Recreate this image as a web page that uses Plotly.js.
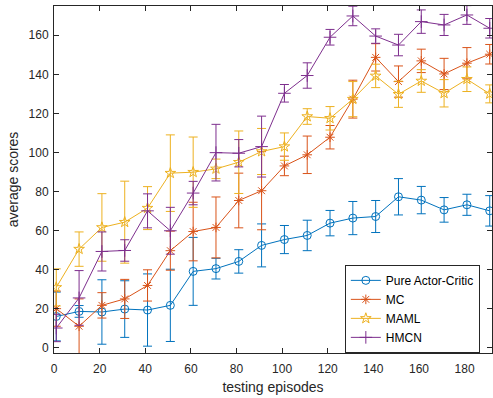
<!DOCTYPE html>
<html><head><meta charset="utf-8">
<script src="https://cdn.plot.ly/plotly-3.0.1.min.js"></script>
<style>html,body{margin:0;padding:0;background:#fff}#c{width:493px;height:398px}</style>
</head><body><div id="c"></div>
<script>
const episodes = [1,11,21,31,41,51,61,71,81,91,101,111,121,131,141,151,161,171,181,191];
const acMean = [16,18.6,18.3,19.8,19.3,21.7,39.1,40.5,44.2,52.4,55.4,57.5,63.8,66.4,67.2,77.3,75.6,70.6,73.2,70.1];
const acErr  = [12.5,3,16.5,14.5,18.5,18.5,17.4,5.3,6,11,7.2,7.8,6.5,8.5,8.2,9.3,7,6.3,5.4,7.8];
const mcMean = [20,11,21.7,25,31.9,49.7,59.5,61.6,75.4,80.4,93.1,98.8,107.8,127.3,148.7,136.3,146.9,140.2,145.7,150.3];
const mcErr  = [9,14,6.5,10,8,10,15,15.6,14,20,5,9.6,6,9.7,7,8,6,8,8,5];
const mamlMean = [30.9,50.5,61.6,64.3,71.5,89.4,89.9,91.6,95,100.5,103,118.4,117.5,127.3,139.2,129.8,136.6,130.3,137.5,130];
const mamlErr  = [9.5,8.8,17.3,21,11,19.6,18,5,16,11.8,7,4,6,9,6,6.7,5.8,7,6.3,4.6];
const hmcnMean = [10.1,25.5,49.3,49.8,70.1,59.9,79.2,99.9,99.6,103,130.3,139.4,159,169.9,159.6,155,167,165.3,170.4,163.6];
const hmcnErr  = [7,14,10,5.5,8.7,12,6,14.5,7,15.6,4.5,6.5,4,5,3.7,5.5,6,5.4,4.8,5];
const seriesNames = ['Pure Actor-Critic','MC','MAML','HMCN'];

const colors = ['#0072BD','#D95319','#EDB120','#7E2F8E'];
const symbols = ['circle-open','asterisk-open','star-open','cross-thin-open'];
const means = [acMean, mcMean, mamlMean, hmcnMean];
const errs = [acErr, mcErr, mamlErr, hmcnErr];
const sizes = [8,8,8,9];

const traces = seriesNames.map((n,i)=>({
  type:'scatter', mode:'lines+markers', name:n,
  x:episodes, y:means[i],
  line:{color:colors[i], width:1},
  marker:{symbol:symbols[i], size:sizes[i], color:colors[i], line:{color:colors[i], width:1}},
  error_y:{type:'data', array:errs[i], visible:true, color:colors[i], thickness:1, width:4.5}
}));

const ff = 'Liberation Sans, Arial, sans-serif';
const axisFont = {family:ff, size:12, color:'#262626'};
const layout = {
  width:493, height:398,
  margin:{l:54, r:1, t:6, b:45},
  paper_bgcolor:'#fff', plot_bgcolor:'#fff',
  showlegend:true,
  legend:{x:0.664, y:0.254, xanchor:'left', yanchor:'top', bgcolor:'#fff',
    bordercolor:'#262626', borderwidth:1, font:{family:ff, size:12, color:'#000'},
    tracegroupgap:0, itemwidth:30},
  xaxis:{range:[0,192], tickvals:[0,20,40,60,80,100,120,140,160,180], ticks:'inside', ticklen:5,
    ticklabelstandoff:5,
    tickcolor:'#262626', linecolor:'#262626', linewidth:1, mirror:'ticks', showgrid:false, zeroline:false,
    tickfont:axisFont, title:{text:'testing episodes', font:{family:ff, size:14, color:'#262626'}, standoff:6}},
  yaxis:{range:[-2.7,175], tickvals:[0,20,40,60,80,100,120,140,160], ticks:'inside', ticklen:5,
    ticklabelstandoff:2,
    tickcolor:'#262626', linecolor:'#262626', linewidth:1, mirror:'ticks', showgrid:false, zeroline:false,
    tickfont:axisFont, title:{text:'average scores', font:{family:ff, size:14, color:'#262626'}, standoff:6}}
};
Plotly.newPlot('c', traces, layout, {displayModeBar:false, staticPlot:true});
</script></body></html>
